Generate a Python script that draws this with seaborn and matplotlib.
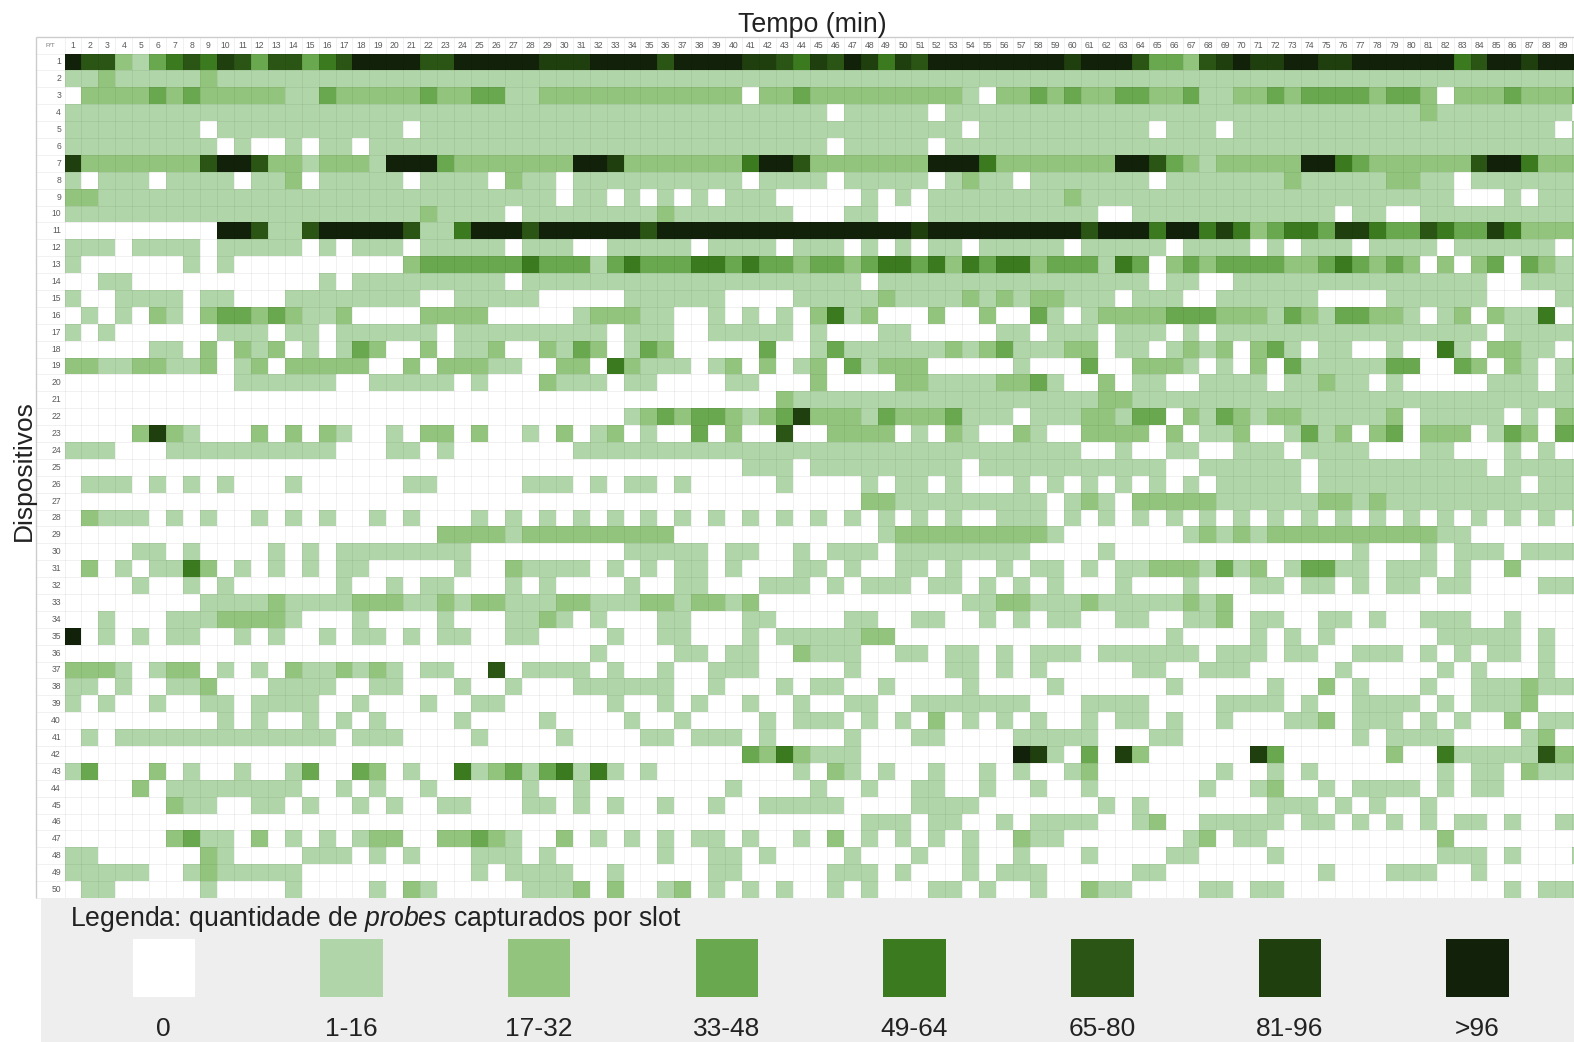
import numpy as np
import matplotlib
matplotlib.use("Agg")
import matplotlib.pyplot as plt
from matplotlib.colors import ListedColormap
from matplotlib.patches import Rectangle
import seaborn as sns

# each digit is the legend class of one slot (0 = no probes ... 7 = more than 96)
row_01 = "7552134546 5355345777 7557777766 6777757777 6654657646 5777777776 7775332567 6677667777 7745776777"
row_02 = "1121111121 1111111111 1111111111 1111111111 1111111111 1111111111 1111111111 1111111111 1111111111"
row_03 = "0222232322 2221132222 2322331122 2222222222 0223222222 2221022323 2233223112 2323333233 2022232223"
row_04 = "1111111111 1111111111 1111111111 1111111111 1111101111 1011111111 1111111111 1111111111 2111111110"
row_05 = "1111111101 1111111111 0111111111 1111111111 1111111111 1110111111 1111011101 1111111111 1111111101"
row_06 = "1111111110 1001011011 1111111111 1111111111 1111101111 1011111111 1111111111 1111111111 1111111111"
row_07 = "6222222257 7522122217 7732222222 7762222222 4775222222 2777422222 2277532122 2227743222 2225774222"
row_08 = "1011101111 0112011111 0111102110 1111111111 0111101111 1012110111 1111011111 1121111122 1101111111"
row_09 = "2211111111 1111111111 1111111110 1101010101 1100000101 0111111112 1111111111 1111111111 1100010111"
row_10 = "1111111111 1111111111 1211110111 1111121111 1110001100 0111111111 1001111111 1111101100 1111111111"
row_11 = "0000000007 7511577777 5114777577 7777577777 7777777777 6777777777 5777477464 2344366433 5433642222"
row_12 = "1110111101 1111010111 0111110111 0011111011 1101110101 0110111110 1111101111 0101110111 1011111101"
row_13 = "1000000101 0000000000 2333333433 3134333443 4332332344 3424344233 3143023233 3322343232 0202303211"
row_14 = "0011000000 0000010111 1111110111 1111111111 1111111011 1111111111 1111011001 1111111111 1111001111"
row_15 = "1001111011 0001111111 1001111100 0001111110 0001111121 1112121221 1101110011 1111000011 1111000011"
row_16 = "0101021023 3232112000 0222200000 1222110010 1010241200 0200200310 1222233322 2132133221 0120211401"
row_17 = "1010000001 1101101111 1101111111 1101110011 1110100011 0000011011 1011101011 1111111111 1111011111"
row_18 = "0000011020 2120101320 0201120021 3201320000 0300131111 1121231112 2011012120 2310110010 0410221101"
row_19 = "2211221120 1202222200 2022211002 2042111012 0201203122 2000001000 3002221010 2031111133 0032021012"
row_20 = "0000000000 1111110011 1110100021 1101100001 1000200002 2111122310 0201100111 1011211010 0000111011"
row_21 = "0000000000 0000000000 0000000000 0000000000 0021111111 1111111111 1221111111 1111111111 1111111111"
row_22 = "0000000000 0000000000 0000000000 0001232332 1236222132 2231110111 2213302132 1221111120 1111101022"
row_23 = "0000262100 0202021001 0220200102 0120100302 0050022220 1021002100 2222020112 0013120230 2220132033"
row_24 = "1110001111 1111110001 1010000000 1111111111 1111111111 1111111111 0010011001 1101111000 1100010100"
row_25 = "0000000000 0000000000 0000000000 0000000000 1110111111 1110111111 1111100111 1110111111 1111011111"
row_26 = "0111010101 0001000000 1100000111 0101101000 0010000101 1010001010 1010101011 1110111111 1111110111"
row_27 = "0000000000 0000000000 0000000000 0000000000 0000000221 1111111101 2102222211 1111221211 1111111111"
row_28 = "0211101010 0101010010 1000101010 1010101010 1010101010 1010011101 0101010101 0101010101 0101010101"
row_29 = "0000000000 0000000000 0022221222 2222220000 0000000012 2222222210 0000001212 1222222222 2110000000"
row_30 = "0000110100 0010101111 1111000000 0001111101 1001011101 1111111000 0100000000 0000001000 1011101111"
row_31 = "0201011420 1010101100 0001002111 1010101101 0001101001 1010010110 1011222131 2013311011 1010020000"
row_32 = "0000100101 0000001001 0110001010 0001001100 0111010111 0110101010 0010001000 1101101011 0110000111"
row_33 = "0000000011 1121111222 1121221112 2111221221 2000000000 0001122111 2111112120 0000000000 0000000000"
row_34 = "0010001112 2221000100 0010001121 0100011000 1100001100 1100101011 0011001120 1100110100 1110010000"
row_35 = "7010101100 1010010110 1011001100 0010011000 1011111220 0000000000 0000010000 1010100000 0111110100"
row_36 = "0000000000 0000000000 0000000000 0100001101 1002111001 1011010111 0111111011 1011001110 1010110100"
row_37 = "2221012201 0102112121 0110050111 1010010011 1000001000 0011010100 0001100111 0000010000 0101000100"
row_38 = "1101001120 0011110011 0001001000 1111110010 0010110010 0001000010 0000010000 0100201000 1001112111"
row_39 = "1010010011 0111100100 0100110000 0010010100 1001001100 1111111000 1111000011 1101001111 0101112000"
row_40 = "0000000001 0100101010 0001000010 0001001000 0101110101 0201010100 1011010010 0011201110 1010020111"
row_41 = "0101111111 1111110111 0000100001 0000110111 0100001000 1100001111 1000110000 0000001011 1100001200"
row_42 = "0000000000 0000000000 0000000000 0000000000 3242111000 0000007610 3062000000 6300000020 0411111522"
row_43 = "1300020100 1001300320 1004123134 1410100000 0001021010 0100101001 2000000010 0101000000 0101102111"
row_44 = "0000201111 1111001010 0100000100 1000000001 0000100100 1100100100 1000000100 1200101111 0101100000"
row_45 = "0000002110 0110100101 0011000110 1010010010 0111110000 1111000000 0101000000 0111010100 1000000000"
row_46 = "0000000000 0000000000 0000000000 0000000000 0000000111 0110010111 1001200111 1101101010 1011010011"
row_47 = "0000002311 0201010122 0022321002 0101010110 1001020101 0101002110 0000001201 1000000000 0200000000"
row_48 = "1100000021 0000111010 1000111010 0000010011 0100001000 1001001000 1000011000 0100000000 0111010001"
row_49 = "1111100121 1111000000 0000101111 0010000011 0000011101 0001011100 0001100000 0000100011 1001000000"
row_50 = "0110000010 0001000010 2100000111 2020012010 1010010100 0110100100 2110000110 1100000000 0000010111"

rows = [row_01, row_02, row_03, row_04, row_05, row_06, row_07, row_08, row_09, row_10,
        row_11, row_12, row_13, row_14, row_15, row_16, row_17, row_18, row_19, row_20,
        row_21, row_22, row_23, row_24, row_25, row_26, row_27, row_28, row_29, row_30,
        row_31, row_32, row_33, row_34, row_35, row_36, row_37, row_38, row_39, row_40,
        row_41, row_42, row_43, row_44, row_45, row_46, row_47, row_48, row_49, row_50]

legend_labels = ["0", "1-16", "17-32", "33-48", "49-64", "65-80", "81-96", ">96"]
palette = ["#ffffff", "#b0d5a8", "#93c47d", "#6aa84f", "#3b7a1f", "#2b5515", "#203f0e", "#12210a"]
minutes = list(range(1, 91))
devices = list(range(1, 51))

grid = np.array([[int(c) for c in r.replace(" ", "")] for r in rows])

sns.set_theme(style="white")
plt.rcParams["font.family"] = ["Liberation Sans", "DejaVu Sans"]
plt.rcParams["mathtext.fontset"] = "custom"
plt.rcParams["mathtext.it"] = "Liberation Sans:italic"
plt.rcParams["mathtext.rm"] = "Liberation Sans"

W, H = 1574, 1042
fig = plt.figure(figsize=(W / 100, H / 100), dpi=100)


def fx(px):
    return px / W


def fy(py):
    return 1 - py / H


# heatmap, the last column runs off the right edge of the picture
cell_w = 16.94
left, top, bottom = 64.5, 53.5, 898
ax = fig.add_axes([fx(left), fy(bottom), fx(W - left), (bottom - top) / H])
sns.heatmap(grid, ax=ax, cmap=ListedColormap(palette), vmin=-0.5, vmax=7.5, cbar=False,
            xticklabels=minutes, yticklabels=devices, square=False)
ax.set_xlim(0, (W - left) / cell_w)
ax.set_ylim(len(devices), 0)
ax.set_xlabel("")
ax.set_ylabel("")
ax.xaxis.tick_top()
ax.tick_params(axis="both", length=0, pad=2.5, labelsize=6.2, labelcolor="#5a5a5a")
ax.tick_params(axis="x", labelrotation=0)
ax.tick_params(axis="y", labelrotation=0)
for s in ax.spines.values():
    s.set_visible(False)

# thin spreadsheet grid, also across the header row and label column
head_x = -(left - 36) / cell_w
head_y = -(top - 37) / ((bottom - top) / len(devices))
ax.vlines(np.arange(len(minutes) + 1), head_y, len(devices), color="black", alpha=0.055, lw=0.7, clip_on=False)
ax.hlines(np.arange(len(devices) + 1), head_x, len(minutes), color="black", alpha=0.055, lw=0.7, clip_on=False)
ax.vlines(head_x, head_y, len(devices), color="#cccccc", lw=1.0, clip_on=False)
ax.hlines(head_y, head_x, len(minutes), color="#cccccc", lw=1.0, clip_on=False)
ax.text(head_x / 2, head_y / 2, "P/T", ha="center", va="center", fontsize=4.5, color="#777777")

fig.text(fx(812), fy(25.5), "Tempo (min)", ha="center", va="center", fontsize=19.3, color="#222222")
fig.text(fx(24), fy(471), "Dispositivos", ha="center", va="center", rotation=90, fontsize=19, color="#222222")

# legend panel
fig.add_artist(Rectangle((fx(41), 0), fx(W - 41), fy(898), transform=fig.transFigure, fc="#eeeeee", ec="none"))
fig.text(fx(70), fy(919), r"Legenda: quantidade de $\mathit{probes}$ capturados por slot",
         ha="left", va="center", fontsize=19.2, color="#222222")
for i, (lab, col) in enumerate(zip(legend_labels, palette)):
    x0 = 132.5 + i * 187.7
    fig.add_artist(Rectangle((fx(x0), fy(997)), fx(62.5), 58 / H, transform=fig.transFigure, fc=col, ec="none"))
    fig.text(fx(x0 + 31), fy(1029), lab, ha="center", va="center", fontsize=19, color="#222222")

fig.savefig("out.png", dpi=100)
